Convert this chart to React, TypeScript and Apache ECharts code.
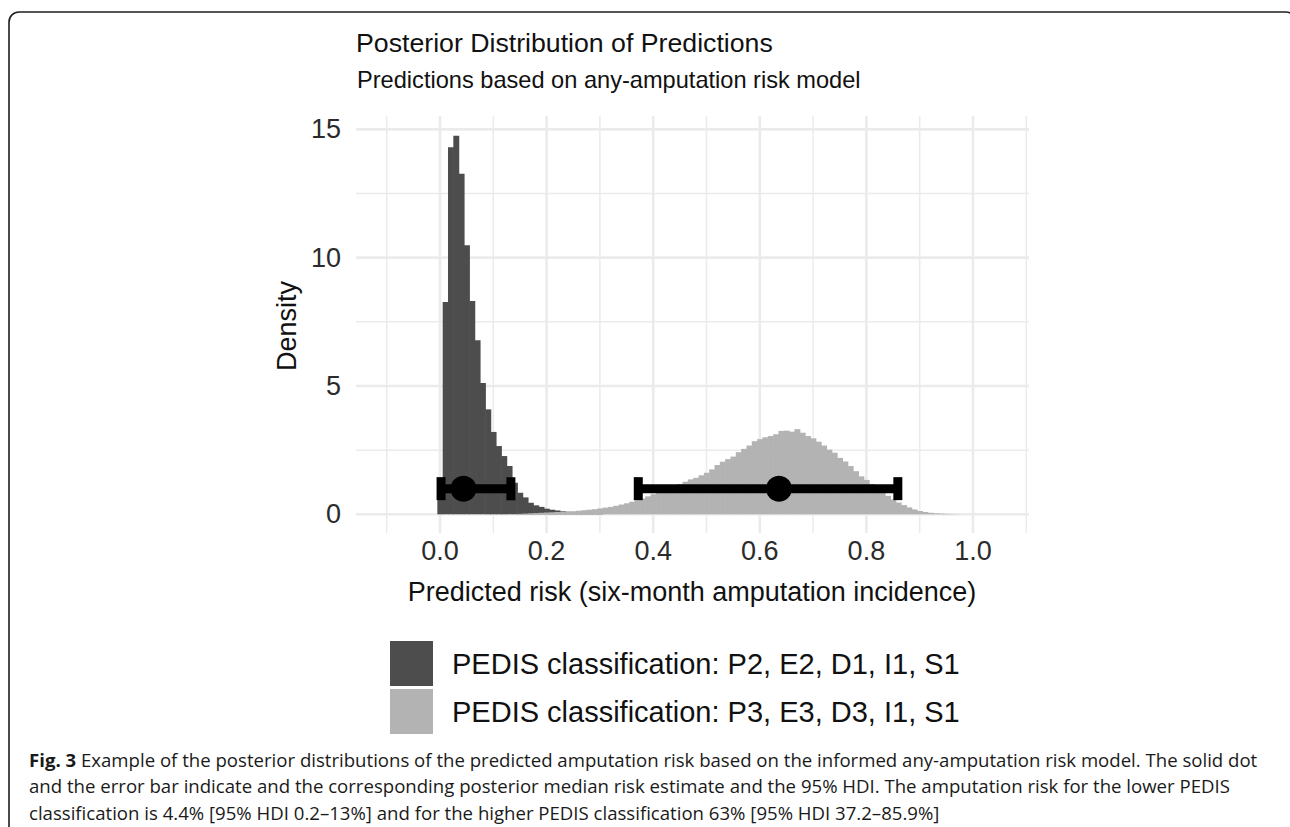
import React, { useEffect, useRef } from "react";
import * as echarts from "echarts";

// ---------- data ----------
const binWidth = 0.01;

const darkBinCenters = [
  0.0, 0.01, 0.02, 0.03, 0.04, 0.05, 0.06, 0.07, 0.08, 0.09, 0.1, 0.11, 0.12, 0.13, 0.14, 0.15,
  0.16, 0.17, 0.18, 0.19, 0.2, 0.21, 0.22, 0.23, 0.24, 0.25, 0.26, 0.27, 0.28, 0.29, 0.3,
];
const darkDensity = [
  1.1, 8.27, 14.3, 14.75, 13.27, 10.48, 8.31, 6.78, 5.12, 4.09, 3.21, 2.66, 2.27, 1.88, 1.23, 0.84,
  0.66, 0.45, 0.35, 0.29, 0.22, 0.18, 0.15, 0.12, 0.1, 0.08, 0.06, 0.05, 0.04, 0.03, 0.02,
];

const lightBinCenters = [
  0.15, 0.16, 0.17, 0.18, 0.19, 0.2, 0.21, 0.22, 0.23, 0.24, 0.25, 0.26, 0.27, 0.28, 0.29,
  0.3, 0.31, 0.32, 0.33, 0.34, 0.35, 0.36, 0.37, 0.38, 0.39,
  0.4, 0.41, 0.42, 0.43, 0.44, 0.45, 0.46, 0.47, 0.48, 0.49,
  0.5, 0.51, 0.52, 0.53, 0.54, 0.55, 0.56, 0.57, 0.58, 0.59,
  0.6, 0.61, 0.62, 0.63, 0.64, 0.65, 0.66, 0.67, 0.68, 0.69,
  0.7, 0.71, 0.72, 0.73, 0.74, 0.75, 0.76, 0.77, 0.78, 0.79,
  0.8, 0.81, 0.82, 0.83, 0.84, 0.85, 0.86, 0.87, 0.88, 0.89,
  0.9, 0.91, 0.92, 0.93, 0.94, 0.95, 0.96, 0.97,
];
const lightDensity = [
  0.02, 0.03, 0.04, 0.05, 0.06, 0.07, 0.08, 0.09, 0.1, 0.11, 0.12, 0.14, 0.16, 0.18, 0.2,
  0.23, 0.26, 0.29, 0.33, 0.38, 0.43, 0.49, 0.55, 0.62, 0.7,
  0.78, 0.87, 0.95, 1.02, 1.1, 1.18, 1.27, 1.36, 1.42, 1.52,
  1.62, 1.75, 1.92, 2.05, 2.15, 2.25, 2.42, 2.55, 2.68, 2.85,
  2.93, 3.0, 3.05, 3.12, 3.25, 3.26, 3.22, 3.32, 3.18, 3.05,
  2.96, 2.83, 2.68, 2.52, 2.4, 2.2, 2.06, 1.88, 1.68, 1.48,
  1.34, 1.18, 1.02, 0.86, 0.72, 0.58, 0.46, 0.36, 0.27, 0.19,
  0.13, 0.09, 0.06, 0.04, 0.03, 0.02, 0.01, 0.005,
];

const groups = [
  "PEDIS classification: P2, E2, D1, I1, S1",
  "PEDIS classification: P3, E3, D3, I1, S1",
];
const medians = [0.044, 0.636];
const hdiLower = [0.002, 0.372];
const hdiUpper = [0.133, 0.859];
const errorBarY = [1, 1];

const xMajorTicks = [0, 0.2, 0.4, 0.6, 0.8, 1.0];
const xMinorTicks = [-0.1, 0.1, 0.3, 0.5, 0.7, 0.9, 1.1];
const yMajorTicks = [0, 5, 10, 15];
const yMinorTicks = [2.5, 7.5, 12.5];

const titleText = "Posterior Distribution of Predictions";
const subtitleText = "Predictions based on any-amputation risk model";
const xTitle = "Predicted risk (six-month amputation incidence)";
const yTitle = "Density";
const captionLines = [
  "{b|Fig. 3} Example of the posterior distributions of the predicted amputation risk based on the informed any-amputation risk model. The solid dot",
  "and the error bar indicate and the corresponding posterior median risk estimate and the 95% HDI. The amputation risk for the lower PEDIS",
  "classification is 4.4% [95% HDI 0.2\u201313%] and for the higher PEDIS classification 63% [95% HDI 37.2\u201385.9%]",
];

// ---------- styling ----------
const SANS = "'Liberation Sans', Arial, Helvetica, sans-serif";
const CAPTION_FONT = "'Open Sans', 'Noto Sans', sans-serif";
const DARK = "#4d4d4d";
const LIGHT = "#b3b3b3";
const GRID = "#ebebeb";

export default function App() {
  const ref = useRef<HTMLDivElement>(null);

  useEffect(() => {
    if (!ref.current) return;
    const chart = echarts.init(ref.current, undefined, { renderer: "svg" });

    const gridLineSeries = (vals: number[], dir: "x" | "y", width: number) => ({
      type: "custom",
      silent: true,
      z: 0,
      data: vals.map((v) => (dir === "x" ? [v, 0] : [0, v])),
      renderItem: (params: any, api: any) => {
        const cs = params.coordSys;
        if (dir === "x") {
          const px = api.coord([api.value(0), 0])[0];
          return {
            type: "line",
            shape: { x1: px, y1: cs.y, x2: px, y2: cs.y + cs.height },
            style: { stroke: GRID, lineWidth: width },
          };
        }
        const py = api.coord([0, api.value(1)])[1];
        return {
          type: "line",
          shape: { x1: cs.x, y1: py, x2: cs.x + cs.width, y2: py },
          style: { stroke: GRID, lineWidth: width },
        };
      },
    });

    const histSeries = (name: string, centers: number[], dens: number[], color: string, z: number) => ({
      type: "custom",
      name,
      z,
      itemStyle: { color },
      data: centers.map((c, i) => [c, dens[i]]),
      renderItem: (params: any, api: any) => {
        const c = api.value(0);
        const h = api.value(1);
        const p0 = api.coord([c - binWidth / 2, h]);
        const p1 = api.coord([c + binWidth / 2, 0]);
        return {
          type: "rect",
          shape: { x: p0[0], y: p0[1], width: p1[0] - p0[0] + 0.6, height: p1[1] - p0[1] },
          style: { fill: color },
        };
      },
    });

    const option: any = {
      animation: false,
      backgroundColor: "#ffffff",
      grid: { left: 356, right: 261, top: 116, bottom: 294, containLabel: false },
      xAxis: {
        type: "value",
        min: -0.1576,
        max: 1.1051,
        axisLine: { show: false },
        axisTick: { show: false },
        splitLine: { show: false },
        axisLabel: {
          customValues: xMajorTicks,
          formatter: (v: number) => v.toFixed(1),
          fontSize: 27,
          fontFamily: SANS,
          color: "#2b2b2b",
          margin: 4,
        },
      },
      yAxis: {
        type: "value",
        min: -0.728,
        max: 15.52,
        axisLine: { show: false },
        axisTick: { show: false },
        splitLine: { show: false },
        axisLabel: {
          customValues: yMajorTicks,
          formatter: (v: number) => String(v),
          fontSize: 27,
          fontFamily: SANS,
          color: "#2b2b2b",
          margin: 15,
        },
      },
      legend: {
        orient: "vertical",
        left: 390,
        top: 641,
        padding: 0,
        itemWidth: 43,
        itemHeight: 45,
        itemGap: 3,
        icon: "rect",
        selectedMode: false,
        data: groups,
        textStyle: { fontSize: 29, fontFamily: SANS, color: "#111", padding: [0, 0, 0, 14] },
      },
      series: [
        gridLineSeries(xMinorTicks, "x", 1.5),
        gridLineSeries(yMinorTicks, "y", 1.5),
        gridLineSeries(xMajorTicks, "x", 2.6),
        gridLineSeries(yMajorTicks, "y", 2.6),
        histSeries(groups[0], darkBinCenters, darkDensity, DARK, 2),
        histSeries(groups[1], lightBinCenters, lightDensity, LIGHT, 3),
        {
          type: "custom",
          z: 5,
          silent: true,
          data: medians.map((m, i) => [hdiLower[i], hdiUpper[i], m, errorBarY[i]]),
          encode: { x: [0, 1, 2], y: 3 },
          renderItem: (params: any, api: any) => {
            const y = api.value(3);
            const a = api.coord([api.value(0), y]);
            const b = api.coord([api.value(1), y]);
            const m = api.coord([api.value(2), y]);
            const capW = 9;
            const capH = 23;
            return {
              type: "group",
              children: [
                {
                  type: "rect",
                  shape: { x: a[0], y: a[1] - 4.5, width: b[0] - a[0], height: 9 },
                  style: { fill: "#000" },
                },
                {
                  type: "rect",
                  shape: { x: a[0] - capW / 2, y: a[1] - capH / 2, width: capW, height: capH },
                  style: { fill: "#000" },
                },
                {
                  type: "rect",
                  shape: { x: b[0] - capW / 2, y: b[1] - capH / 2, width: capW, height: capH },
                  style: { fill: "#000" },
                },
                {
                  type: "circle",
                  shape: { cx: m[0], cy: m[1], r: 13 },
                  style: { fill: "#000" },
                },
              ],
            };
          },
        },
      ],
      graphic: [
        {
          type: "rect",
          z: -10,
          silent: true,
          shape: { x: 9, y: 12, width: 1287, height: 900, r: 10 },
          style: { fill: "none", stroke: "#1e1e1e", lineWidth: 1.6 },
        },
        {
          type: "text",
          x: 356,
          y: 43,
          style: { text: titleText, fontSize: 26.7, fontFamily: SANS, fill: "#111", textAlign: "left", textVerticalAlign: "middle" },
        },
        {
          type: "text",
          x: 357,
          y: 80,
          style: { text: subtitleText, fontSize: 23.6, fontFamily: SANS, fill: "#111", textAlign: "left", textVerticalAlign: "middle" },
        },
        {
          type: "text",
          x: 692,
          y: 592,
          style: { text: xTitle, fontSize: 27, fontFamily: SANS, fill: "#111", textAlign: "center", textVerticalAlign: "middle" },
        },
        {
          type: "text",
          x: 287,
          y: 326,
          rotation: Math.PI / 2,
          style: { text: yTitle, fontSize: 27, fontFamily: SANS, fill: "#111", textAlign: "center", textVerticalAlign: "middle" },
        },
        ...captionLines.map((line, i) => ({
          type: "text",
          x: 29,
          y: 759 + i * 26.5,
          style: {
            text: line,
            fontSize: 18.6,
            fontFamily: CAPTION_FONT,
            fill: "#1a1a1a",
            textAlign: "left",
            textVerticalAlign: "middle",
            rich: { b: { fontSize: 18.6, fontWeight: "bold", fontFamily: CAPTION_FONT, fill: "#1a1a1a" } },
          },
        })),
      ],
    };

    chart.setOption(option);
    return () => chart.dispose();
  }, []);

  return (
    <div
      ref={ref}
      style={{ position: "fixed", left: 0, top: 0, width: 1290, height: 827, background: "#fff" }}
    />
  );
}
